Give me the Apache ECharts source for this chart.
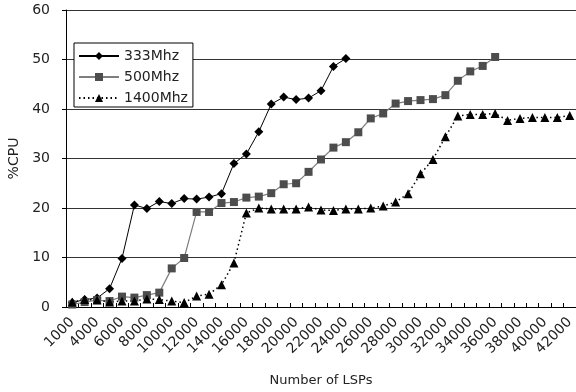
<!DOCTYPE html>
<html>
<head>
<meta charset="utf-8">
<script src="https://cdn.jsdelivr.net/npm/echarts@6/dist/echarts.min.js"></script>
<style>
  html, body { margin: 0; padding: 0; background: #fff; }
  #chart { width: 576px; height: 392px; }
</style>
</head>
<body>
<div id="chart"></div>
<script>
// x categories (number of LSPs)
var lsps = ['1000'];
for (var n = 3000; n <= 42000; n += 1000) lsps.push(String(n));

// %CPU per processor
var cpu333 = [0.9, 1.5, 1.8, 3.7, 9.8, 20.6, 19.9, 21.3, 20.9, 21.9, 21.8, 22.2, 22.9,
  29.0, 30.9, 35.4, 41.0, 42.4, 41.9, 42.2, 43.7, 48.6, 50.2];
var cpu500 = [0.5, 1.0, 1.4, 1.2, 2.1, 1.9, 2.4, 2.9, 7.8, 9.9, 19.2, 19.2, 21.0, 21.2,
  22.1, 22.3, 23.0, 24.8, 25.0, 27.3, 29.8, 32.2, 33.3, 35.3, 38.1, 39.1, 41.1, 41.6,
  41.8, 42.0, 42.8, 45.7, 47.6, 48.7, 50.5];
var cpu1400 = [1.0, 1.5, 1.4, 1.0, 1.2, 1.2, 1.6, 1.5, 1.2, 0.9, 2.2, 2.6, 4.5, 8.9,
  19.0, 20.0, 19.8, 19.8, 19.8, 20.2, 19.6, 19.5, 19.8, 19.8, 20.0, 20.4, 21.2, 22.9,
  26.9, 29.8, 34.4, 38.6, 38.9, 38.9, 39.1, 37.7, 38.1, 38.3, 38.3, 38.3, 38.7];

var font = '"DejaVu Sans", sans-serif';
var chart = echarts.init(document.getElementById('chart'));

chart.setOption({
  animation: false,
  textStyle: { fontFamily: font },
  grid: { left: 66, right: 0, top: 10, bottom: 85, containLabel: false, outerBoundsMode: 'none' },
  legend: {
    left: 74, top: 43,
    orient: 'vertical',
    backgroundColor: '#fff',
    borderColor: '#000',
    borderWidth: 1,
    borderRadius: 0,
    padding: [6, 5, 2, 4],
    itemGap: 7,
    itemWidth: 40,
    itemHeight: 10,
    textStyle: { fontSize: 14, color: '#222', fontFamily: font },
    data: ['333Mhz', '500Mhz', '1400Mhz']
  },
  xAxis: {
    type: 'category',
    data: lsps,
    boundaryGap: true,
    name: 'Number of LSPs',
    nameLocation: 'middle',
    nameGap: 67,
    nameTextStyle: { fontSize: 13, color: '#222' },
    axisLine: { lineStyle: { color: '#000', width: 1 } },
    axisTick: { show: true, inside: true, length: 4, interval: 0, lineStyle: { color: '#000' } },
    axisLabel: { interval: 1, rotate: 45, fontSize: 14, color: '#222', margin: 13 }
  },
  yAxis: {
    type: 'value',
    min: 0, max: 60, interval: 10,
    name: '%CPU',
    nameLocation: 'middle',
    nameGap: 44,
    nameTextStyle: { fontSize: 14, color: '#222' },
    axisLine: { show: true, lineStyle: { color: '#000', width: 1 } },
    axisTick: { show: true, length: 4, lineStyle: { color: '#000' } },
    axisLabel: { fontSize: 14, color: '#222', margin: 16 },
    splitLine: { show: true, lineStyle: { color: '#333', width: 1 } }
  },
  series: [
    {
      name: '333Mhz', type: 'line', data: cpu333,
      symbol: 'diamond', symbolSize: 9, showAllSymbol: true,
      itemStyle: { color: '#000' },
      lineStyle: { color: '#000', width: 1 }
    },
    {
      name: '500Mhz', type: 'line', data: cpu500,
      symbol: 'rect', symbolSize: 8, showAllSymbol: true,
      itemStyle: { color: '#4d4d4d' },
      lineStyle: { color: '#7f7f7f', width: 1.2 }
    },
    {
      name: '1400Mhz', type: 'line', data: cpu1400,
      symbol: 'triangle', symbolSize: 9, showAllSymbol: true,
      itemStyle: { color: '#000' },
      lineStyle: { color: '#000', width: 1.5, type: [1.5, 3] }
    }
  ]
});
</script>
</body>
</html>
